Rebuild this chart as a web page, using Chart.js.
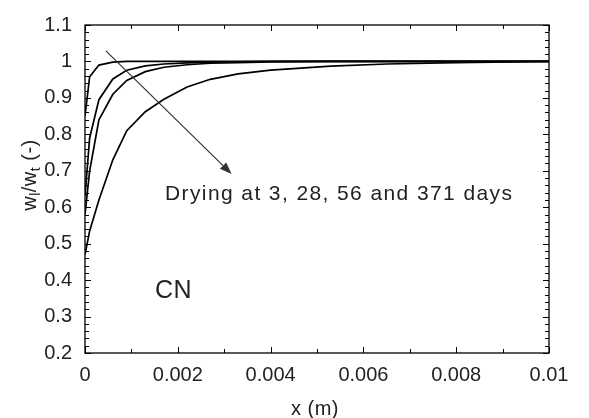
<!DOCTYPE html>
<html>
<head>
<meta charset="utf-8">
<script src="https://cdn.jsdelivr.net/npm/chart.js@4/dist/chart.umd.min.js"></script>
<style>
  html, body { margin: 0; padding: 0; background: #fff; }
  #c { display: block; }
</style>
</head>
<body>
<canvas id="c" width="589" height="418"></canvas>
<script>
// positions along the sample (m)
const xPos = [0, 0.0001, 0.0003, 0.0006, 0.0009, 0.0013, 0.0017, 0.0022, 0.0027, 0.0033, 0.004, 0.0053, 0.0065, 0.008, 0.01];
// wl/wt profiles for each drying age
const dry3   = [0.85, 0.958, 0.99, 0.998, 1, 1, 1, 1, 1, 1, 1, 1, 1, 1, 1];
const dry28  = [0.63, 0.79, 0.895, 0.952, 0.976, 0.988, 0.993, 0.996, 0.998, 0.999, 1, 1, 1, 1, 1];
const dry56  = [0.58, 0.70, 0.84, 0.91, 0.948, 0.972, 0.984, 0.991, 0.995, 0.997, 0.999, 1, 1, 1, 1];
const dry371 = [0.47, 0.535, 0.62, 0.73, 0.81, 0.862, 0.896, 0.93, 0.951, 0.966, 0.976, 0.987, 0.993, 0.997, 1];

const xTicks = [0, 0.002, 0.004, 0.006, 0.008, 0.01];
const yTicks = [0.2, 0.3, 0.4, 0.5, 0.6, 0.7, 0.8, 0.9, 1, 1.1];

// arrow from (x, y) to (x, y) in data units
const arrowFrom = [0.00045, 1.029];
const arrowTo = [0.00316, 0.691];

const FONT = "'Liberation Sans', Arial, Helvetica, sans-serif";

function series(ys) {
  return ys.map((y, i) => ({ x: xPos[i], y: y }));
}

function lineSet(ys) {
  return {
    data: series(ys),
    borderColor: '#000',
    borderWidth: 1.7,
    pointRadius: 0,
    tension: 0,
    fill: false
  };
}

const fmt = v => String(Number(v.toFixed(4)));

// frame, inward ticks, arrow and annotations
const decorations = {
  id: 'decorations',
  afterDraw(chart) {
    const ctx = chart.ctx;
    const xs = chart.scales.x, ys = chart.scales.y;
    const a = chart.chartArea;
    ctx.save();
    ctx.strokeStyle = '#000';
    ctx.lineWidth = 1.3;
    ctx.strokeRect(a.left, a.top, a.right - a.left, a.bottom - a.top);

    ctx.lineWidth = 1;
    ctx.beginPath();
    for (let i = 0; i <= 10; i++) {
      const px = Math.round(xs.getPixelForValue(i * 0.001)) + 0.5;
      const len = i % 2 === 0 ? 6 : 4;
      ctx.moveTo(px, a.bottom); ctx.lineTo(px, a.bottom - len);
      ctx.moveTo(px, a.top); ctx.lineTo(px, a.top + len);
    }
    for (let i = 0; i <= 45; i++) {
      const py = Math.round(ys.getPixelForValue(0.2 + i * 0.02)) + 0.5;
      const len = i % 5 === 0 ? 6 : 4;
      ctx.moveTo(a.left, py); ctx.lineTo(a.left + len, py);
      ctx.moveTo(a.right, py); ctx.lineTo(a.right - len, py);
    }
    ctx.stroke();

    // arrow
    const x0 = xs.getPixelForValue(arrowFrom[0]), y0 = ys.getPixelForValue(arrowFrom[1]);
    const x1 = xs.getPixelForValue(arrowTo[0]), y1 = ys.getPixelForValue(arrowTo[1]);
    const ang = Math.atan2(y1 - y0, x1 - x0);
    const hl = 12, hw = 4.5;
    ctx.strokeStyle = '#333';
    ctx.fillStyle = '#333';
    ctx.lineWidth = 1.2;
    ctx.beginPath();
    ctx.moveTo(x0, y0);
    ctx.lineTo(x1 - hl * Math.cos(ang), y1 - hl * Math.sin(ang));
    ctx.stroke();
    ctx.beginPath();
    ctx.moveTo(x1, y1);
    ctx.lineTo(x1 - hl * Math.cos(ang) - hw * Math.sin(ang), y1 - hl * Math.sin(ang) + hw * Math.cos(ang));
    ctx.lineTo(x1 - hl * Math.cos(ang) + hw * Math.sin(ang), y1 - hl * Math.sin(ang) - hw * Math.cos(ang));
    ctx.closePath();
    ctx.fill();

    // annotations
    ctx.fillStyle = '#222';
    ctx.textBaseline = 'alphabetic';
    ctx.textAlign = 'left';
    ctx.letterSpacing = '1.4px';
    ctx.font = '21px ' + FONT;
    ctx.fillText('Drying at 3, 28, 56 and 371 days', 165, 200);
    ctx.letterSpacing = '0.5px';
    ctx.font = '25px ' + FONT;
    ctx.fillText('CN', 155, 298);

    // x axis title
    ctx.letterSpacing = '0.5px';
    ctx.font = '20px ' + FONT;
    ctx.textAlign = 'center';
    ctx.fillText('x (m)', 315, 415);

    // y axis title with subscripts, rotated
    ctx.letterSpacing = '0.5px';
    ctx.translate(36, 175);
    ctx.rotate(-Math.PI / 2);
    const parts = [['w', 0], ['l', 1], ['/w', 0], ['t', 1], [' (-)', 0]];
    const big = '20px ' + FONT, small = '14px ' + FONT;
    let total = 0;
    parts.forEach(p => { ctx.font = p[1] ? small : big; total += ctx.measureText(p[0]).width; });
    let cx = -total / 2;
    ctx.textAlign = 'left';
    parts.forEach(p => {
      ctx.font = p[1] ? small : big;
      ctx.fillText(p[0], cx, p[1] ? 4 : 0);
      cx += ctx.measureText(p[0]).width;
    });
    ctx.restore();
  }
};

new Chart(document.getElementById('c'), {
  type: 'line',
  data: {
    datasets: [lineSet(dry3), lineSet(dry28), lineSet(dry56), lineSet(dry371)]
  },
  options: {
    responsive: false,
    animation: false,
    layout: { padding: { top: 15, right: 40, left: 0, bottom: 0 } },
    plugins: { legend: { display: false }, tooltip: { enabled: false } },
    scales: {
      x: {
        type: 'linear',
        min: 0,
        max: 0.01,
        grid: { display: false, drawTicks: false },
        border: { display: false },
        afterBuildTicks: s => { s.ticks = xTicks.map(v => ({ value: v })); },
        afterFit: s => { s.height = 65; },
        ticks: {
          padding: 10,
          color: '#222',
          font: { family: FONT, size: 20 },
          maxRotation: 0,
          autoSkip: false,
          callback: v => fmt(v)
        }
      },
      y: {
        type: 'linear',
        min: 0.2,
        max: 1.1,
        grid: { display: false, drawTicks: false },
        border: { display: false },
        afterBuildTicks: s => { s.ticks = yTicks.map(v => ({ value: v })); },
        afterFit: s => { s.width = 85; },
        ticks: {
          padding: 13,
          color: '#222',
          font: { family: FONT, size: 20 },
          autoSkip: false,
          callback: v => fmt(v)
        }
      }
    }
  },
  plugins: [decorations]
});
</script>
</body>
</html>
